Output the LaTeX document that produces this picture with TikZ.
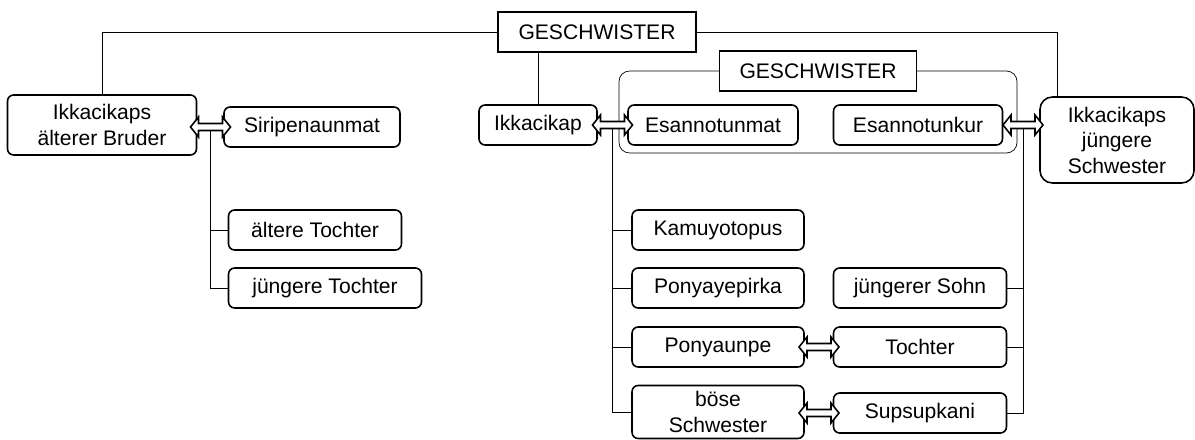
\documentclass[tikz,border=0pt]{standalone}
\usepackage{fontspec}
\setmainfont{Liberation Sans}
\usetikzlibrary{shapes,arrows,positioning,calc,backgrounds}

\begin{document}
\begin{tikzpicture}[x=0.02cm, y=-0.02cm, line width=0.9pt,
  font=\fontsize{12}{14.5}\selectfont,
  box/.style={rectangle, rounded corners=3.5pt, draw, fill=white, align=center, minimum height=0.8cm},
  titel/.style={rectangle, draw, fill=white, minimum height=0.8cm},
  pics/dpfeil/.style={code={
    \draw[fill=white, line join=miter] (-20,0) -- (-12,-10) -- (-12,-3.5) -- (12,-3.5) -- (12,-10) -- (20,0)
      -- (12,10) -- (12,3.5) -- (-12,3.5) -- (-12,10) -- cycle;
    \coordinate (-m) at (0,0);}}]
\useasboundingbox (0,0) rectangle (1195,439);

\node[titel, minimum width=3.96cm] (gesch) at (597,32) {GESCHWISTER};
\node[box, minimum width=3.78cm, minimum height=1.2cm] (bruder) at (102,125) {Ikkacikaps\\älterer Bruder};
\node[box, minimum width=3.52cm] (siri) at (312,127) {Siripenaunmat};
\node[box, minimum width=3.46cm] (aeltT) at (315,230) {ältere Tochter};
\node[box, minimum width=3.86cm] (juengT) at (325,288) {jüngere Tochter};

\node[box, minimum width=2.36cm] (ikka) at (538,125) {Ikkacikap};
\node[titel, minimum width=3.94cm] (gesch2) at (818,71) {GESCHWISTER};
\node[box, minimum width=3.4cm] (esmat) at (713,125) {Esannotunmat};
\node[box, minimum width=3.38cm] (eskur) at (918,125) {Esannotunkur};
\node[box, rounded corners=7pt, minimum width=3.08cm, minimum height=1.72cm] (schwester) at (1117,140) {Ikkacikaps\\jüngere\\Schwester};

\node[box, minimum width=3.44cm] (kamu) at (718,230) {Kamuyotopus};
\node[box, minimum width=3.44cm] (ponye) at (718,288) {Ponyayepirka};
\node[box, minimum width=3.44cm] (ponyau) at (718,347) {Ponyaunpe};
\node[box, minimum width=3.44cm, minimum height=1.06cm] (boese) at (718,412) {böse\\Schwester};
\node[box, minimum width=3.46cm] (sohn) at (920,288) {jüngerer Sohn};
\node[box, minimum width=3.46cm] (tochter) at (920,347) {Tochter};
\node[box, minimum width=3.46cm] (supsup) at (920,413) {Supsupkani};

\pic (a1) at (210.5,127) {dpfeil};
\pic (a2) at (612.5,125) {dpfeil};
\pic (a3) at (1023,125) {dpfeil};
\pic (a4) at (819,347) {dpfeil};
\pic (a5) at (819,413) {dpfeil};

\begin{scope}[on background layer]
\draw (gesch.west) -| (bruder.north);
\draw (gesch.east) -| ([xshift=0.36cm]schwester.north west);
\draw (ikka.north) -- (ikka.north |- gesch.south);
\draw[rounded corners=6pt] (619,71) rectangle (1017,153);

\draw (a1-m) |- (juengT.west);
\draw (a1-m |- aeltT.west) -- (aeltT.west);

\draw (a2-m) |- (boese.west);
\draw (a2-m |- kamu.west) -- (kamu.west);
\draw (a2-m |- ponye.west) -- (ponye.west);
\draw (a2-m |- ponyau.west) -- (ponyau.west);

\draw (a3-m) |- (supsup.east);
\draw (a3-m |- sohn.east) -- (sohn.east);
\draw (a3-m |- tochter.east) -- (tochter.east);
\end{scope}
\end{tikzpicture}
\end{document}
